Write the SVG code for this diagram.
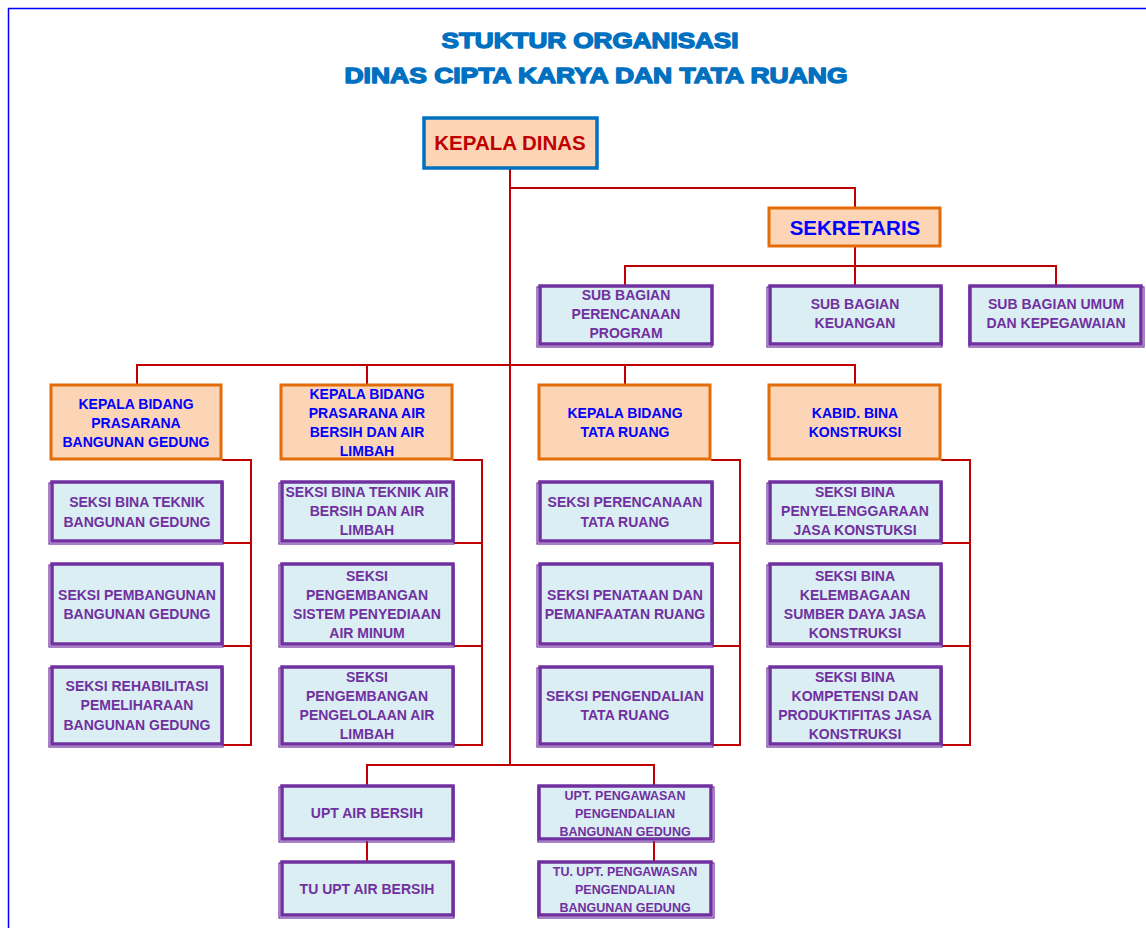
<svg xmlns="http://www.w3.org/2000/svg" width="1146" height="928" viewBox="0 0 1146 928">
<style>
.title{font-family:"Liberation Sans",Arial,sans-serif;font-weight:bold;fill:#0070C0;stroke:#0070C0;stroke-width:1.4;stroke-linejoin:round;text-anchor:middle;font-size:22px}
.head{fill:#FBD5B5;stroke:#0070C0;stroke-width:3.5}
.org{fill:#FBD5B5;stroke:#E36C09;stroke-width:3}
.pur{fill:#DAEEF3;stroke:#7030A0;stroke-width:3.5}
.sh{fill:none;stroke:#7030A0;stroke-width:1.2}
.t{font-family:"Liberation Sans",Arial,sans-serif;font-weight:bold;text-anchor:middle}
.tb{fill:#0000FF;font-size:14px}
.tp{fill:#7030A0;font-size:14px}
.ts{fill:#7030A0;font-size:12.5px}
.con{fill:none;stroke:#C00000;stroke-width:2}
</style>
<rect width="1146" height="928" fill="#ffffff"/>
<path d="M8.5 928 V8.5 H1146" fill="none" stroke="#0000FF" stroke-width="1.5"/>
<g id="title">
<text class="title" x="590" y="48" textLength="297" lengthAdjust="spacingAndGlyphs">STUKTUR ORGANISASI</text>
<text class="title" x="596" y="83" textLength="503" lengthAdjust="spacingAndGlyphs">DINAS CIPTA KARYA DAN TATA RUANG</text>
</g>
<g id="connectors" class="con">
<path d="M510 169 V765"/>
<path d="M510 188 H855 V207"/>
<path d="M855 247 V285 M625 285 V266 H1056 V285"/>
<path d="M137 384 V365 H855 V384 M367 365 V384 M625 365 V384"/>
<path d="M222 460 H251 V745 H223 M223 543 H251 M223 646 H251"/>
<path d="M453 460 H482 V745 H454 M454 543 H482 M454 646 H482"/>
<path d="M711 460 H740 V745 H713 M713 543 H740 M713 646 H740"/>
<path d="M941 460 H970 V745 H942 M942 543 H970 M942 646 H970"/>
<path d="M367 785 V765 H654 V785"/>
<path d="M367 841 V861 M654 841 V861"/>
</g>
<g id="kepala-dinas">
<rect class="head" x="424" y="118" width="173" height="50"/>
<text class="t" x="510" y="150" fill="#C00000" font-size="20.5px">KEPALA DINAS</text>
</g>
<g id="sekretaris">
<rect class="org" x="769" y="208" width="171" height="38"/>
<text class="t" x="855" y="235" fill="#0000FF" font-size="20.5px">SEKRETARIS</text>
</g>
<g id="sb-perencanaan">
<rect class="sh" x="537" y="287" width="175" height="60"/>
<rect class="pur" x="540" y="286" width="172" height="58"/>
<text class="t tp" x="626"><tspan x="626" y="300">SUB BAGIAN</tspan><tspan x="626" y="319">PERENCANAAN</tspan><tspan x="626" y="338">PROGRAM</tspan></text>
</g>
<g id="sb-keuangan">
<rect class="sh" x="767" y="287" width="175" height="60"/>
<rect class="pur" x="770" y="286" width="171" height="58"/>
<text class="t tp" x="855"><tspan x="855" y="309">SUB BAGIAN</tspan><tspan x="855" y="328">KEUANGAN</tspan></text>
</g>
<g id="sb-umum">
<rect class="sh" x="969" y="287" width="175" height="60"/>
<rect class="pur" x="970" y="286" width="171" height="58"/>
<text class="t tp" x="1056"><tspan x="1056" y="309">SUB BAGIAN UMUM</tspan><tspan x="1056" y="328">DAN KEPEGAWAIAN</tspan></text>
</g>
<g id="kb-bangunan">
<rect class="org" x="51" y="385" width="170" height="74"/>
<text class="t tb"><tspan x="136" y="409">KEPALA BIDANG</tspan><tspan x="136" y="428">PRASARANA</tspan><tspan x="136" y="447">BANGUNAN GEDUNG</tspan></text>
</g>
<g id="kb-air">
<rect class="org" x="281" y="385" width="171" height="74"/>
<text class="t tb"><tspan x="367" y="399">KEPALA BIDANG</tspan><tspan x="367" y="418">PRASARANA AIR</tspan><tspan x="367" y="437">BERSIH DAN AIR</tspan><tspan x="367" y="456">LIMBAH</tspan></text>
</g>
<g id="kb-tataruang">
<rect class="org" x="539" y="385" width="171" height="74"/>
<text class="t tb"><tspan x="625" y="418">KEPALA BIDANG</tspan><tspan x="625" y="437">TATA RUANG</tspan></text>
</g>
<g id="kb-konstruksi">
<rect class="org" x="769" y="385" width="171" height="74"/>
<text class="t tb"><tspan x="855" y="418">KABID. BINA</tspan><tspan x="855" y="437">KONSTRUKSI</tspan></text>
</g>
<g id="s-bina-teknik-bg">
<rect class="sh" x="49" y="483" width="174" height="61"/>
<rect class="pur" x="52" y="482" width="170" height="59"/>
<text class="t tp"><tspan x="137" y="507">SEKSI BINA TEKNIK</tspan><tspan x="137" y="527">BANGUNAN GEDUNG</tspan></text>
</g>
<g id="s-pembangunan">
<rect class="sh" x="49" y="565" width="174" height="82"/>
<rect class="pur" x="52" y="564" width="170" height="80"/>
<text class="t tp"><tspan x="137" y="600">SEKSI PEMBANGUNAN</tspan><tspan x="137" y="619">BANGUNAN GEDUNG</tspan></text>
</g>
<g id="s-rehabilitasi">
<rect class="sh" x="49" y="668" width="174" height="79"/>
<rect class="pur" x="52" y="667" width="170" height="77"/>
<text class="t tp"><tspan x="137" y="691">SEKSI REHABILITASI</tspan><tspan x="137" y="710">PEMELIHARAAN</tspan><tspan x="137" y="730">BANGUNAN GEDUNG</tspan></text>
</g>
<g id="s-bina-teknik-air">
<rect class="sh" x="279" y="483" width="175" height="61"/>
<rect class="pur" x="282" y="482" width="171" height="59"/>
<text class="t tp"><tspan x="367" y="497">SEKSI BINA TEKNIK AIR</tspan><tspan x="367" y="516">BERSIH DAN AIR</tspan><tspan x="367" y="535">LIMBAH</tspan></text>
</g>
<g id="s-spam">
<rect class="sh" x="279" y="565" width="175" height="82"/>
<rect class="pur" x="282" y="564" width="171" height="80"/>
<text class="t tp"><tspan x="367" y="581">SEKSI</tspan><tspan x="367" y="600">PENGEMBANGAN</tspan><tspan x="367" y="619">SISTEM PENYEDIAAN</tspan><tspan x="367" y="638">AIR MINUM</tspan></text>
</g>
<g id="s-limbah">
<rect class="sh" x="279" y="668" width="175" height="79"/>
<rect class="pur" x="282" y="667" width="171" height="77"/>
<text class="t tp"><tspan x="367" y="682">SEKSI</tspan><tspan x="367" y="701">PENGEMBANGAN</tspan><tspan x="367" y="720">PENGELOLAAN AIR</tspan><tspan x="367" y="739">LIMBAH</tspan></text>
</g>
<g id="s-perencanaan-tr">
<rect class="sh" x="537" y="483" width="176" height="61"/>
<rect class="pur" x="540" y="482" width="172" height="59"/>
<text class="t tp"><tspan x="625" y="507">SEKSI PERENCANAAN</tspan><tspan x="625" y="527">TATA RUANG</tspan></text>
</g>
<g id="s-penataan">
<rect class="sh" x="537" y="565" width="176" height="82"/>
<rect class="pur" x="540" y="564" width="172" height="80"/>
<text class="t tp"><tspan x="625" y="600">SEKSI PENATAAN DAN</tspan><tspan x="625" y="619">PEMANFAATAN RUANG</tspan></text>
</g>
<g id="s-pengendalian-tr">
<rect class="sh" x="537" y="668" width="176" height="79"/>
<rect class="pur" x="540" y="667" width="172" height="77"/>
<text class="t tp"><tspan x="625" y="701">SEKSI PENGENDALIAN</tspan><tspan x="625" y="720">TATA RUANG</tspan></text>
</g>
<g id="s-penyelenggaraan">
<rect class="sh" x="767" y="483" width="175" height="61"/>
<rect class="pur" x="770" y="482" width="171" height="59"/>
<text class="t tp"><tspan x="855" y="497">SEKSI BINA</tspan><tspan x="855" y="516">PENYELENGGARAAN</tspan><tspan x="855" y="535">JASA KONSTUKSI</tspan></text>
</g>
<g id="s-kelembagaan">
<rect class="sh" x="767" y="565" width="175" height="82"/>
<rect class="pur" x="770" y="564" width="171" height="80"/>
<text class="t tp"><tspan x="855" y="581">SEKSI BINA</tspan><tspan x="855" y="600">KELEMBAGAAN</tspan><tspan x="855" y="619">SUMBER DAYA JASA</tspan><tspan x="855" y="638">KONSTRUKSI</tspan></text>
</g>
<g id="s-kompetensi">
<rect class="sh" x="767" y="668" width="175" height="79"/>
<rect class="pur" x="770" y="667" width="171" height="77"/>
<text class="t tp"><tspan x="855" y="682">SEKSI BINA</tspan><tspan x="855" y="701">KOMPETENSI DAN</tspan><tspan x="855" y="720">PRODUKTIFITAS JASA</tspan><tspan x="855" y="739">KONSTRUKSI</tspan></text>
</g>
<g id="upt-air">
<rect class="sh" x="279" y="787" width="175" height="55"/>
<rect class="pur" x="282" y="786" width="171" height="53"/>
<text class="t tp" x="367" y="818">UPT AIR BERSIH</text>
</g>
<g id="upt-pengawasan">
<rect class="sh" x="538" y="787" width="176" height="55"/>
<rect class="pur" x="539" y="786" width="172" height="53"/>
<text class="t ts"><tspan x="625" y="800">UPT. PENGAWASAN</tspan><tspan x="625" y="818">PENGENDALIAN</tspan><tspan x="625" y="836">BANGUNAN GEDUNG</tspan></text>
</g>
<g id="tu-upt-air">
<rect class="sh" x="279" y="863" width="175" height="55"/>
<rect class="pur" x="282" y="862" width="171" height="53"/>
<text class="t tp" x="367" y="894">TU UPT AIR BERSIH</text>
</g>
<g id="tu-upt-pengawasan">
<rect class="sh" x="538" y="863" width="176" height="55"/>
<rect class="pur" x="539" y="862" width="172" height="53"/>
<text class="t ts"><tspan x="625" y="876">TU. UPT. PENGAWASAN</tspan><tspan x="625" y="894">PENGENDALIAN</tspan><tspan x="625" y="912">BANGUNAN GEDUNG</tspan></text>
</g>
</svg>
